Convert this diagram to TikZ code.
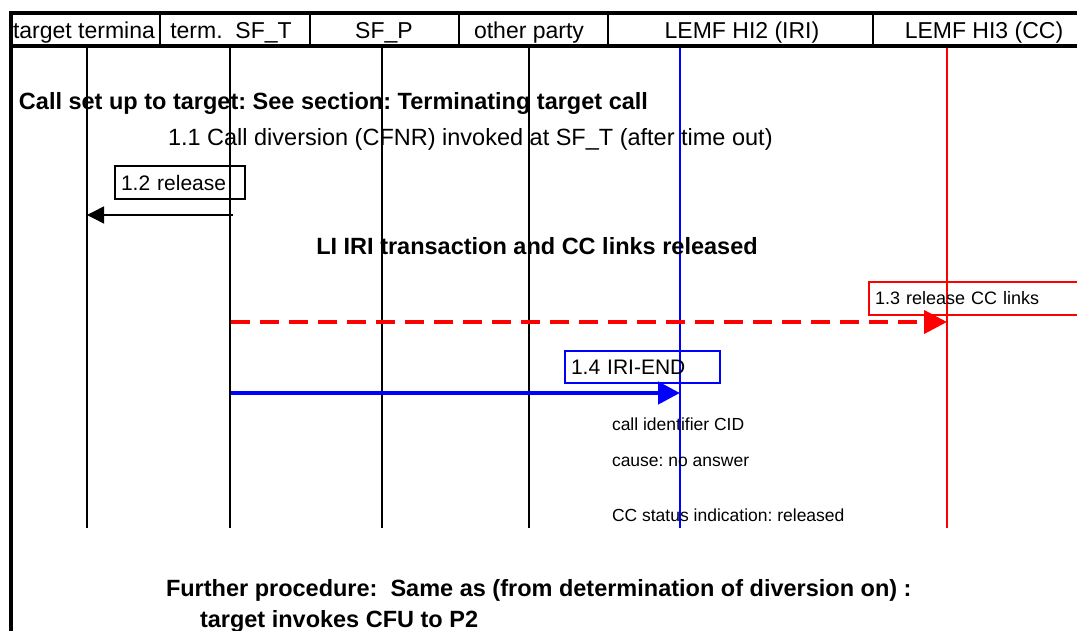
\documentclass[tikz,border=0pt]{standalone}
\usepackage{fontspec}
\setmainfont{Liberation Sans}
\usetikzlibrary{arrows.meta}
\frenchspacing

\tikzset{
  head/.style={font=\fontsize{23}{26}\selectfont, anchor=base},
  txt/.style={font=\fontsize{23.5}{26}\selectfont, anchor=base west},
  btxt/.style={font=\fontsize{23.5}{26}\selectfont\bfseries, anchor=base west},
  small/.style={font=\fontsize{17.5}{20}\selectfont, anchor=base west},
  msgbox/.style={draw, line width=1.4pt, anchor=north west, align=left, inner xsep=6pt},
  tip/.style={-{Triangle[length=#1, width=#1]}}
}

\begin{document}
\begin{tikzpicture}[x=1pt, y=-1pt, every node/.style={inner sep=0, outer sep=0}]
  \useasboundingbox (0,0) rectangle (1077,631);
  \clip (0,0) rectangle (1077,631);

  % header
  \draw[line width=4pt] (10,13) -- (1077,13);
  \draw[line width=4pt] (10,46) -- (1077,46);
  \draw[line width=3.5pt] (11,11) -- (11,631);
  \foreach \x in {160,310,459,608,873}
    \draw[line width=2pt] (\x,13) -- (\x,46);
  \node[head, anchor=base west] (hTT) at (13,39) {target termina};
  \node[head] (hST) at (231,39) {term.\ \ SF\_T};
  \node[head] (hSP) at (384,39) {SF\_P};
  \node[head] (hOP) at (529,39) {other party};
  \node[head] (hH2) at (742,39) {LEMF HI2 (IRI)};
  \node[head] (hH3) at (984,39) {LEMF HI3 (CC)};

  % lifelines
  \foreach \n/\x/\c in {TT/87/black, ST/230/black, SP/382/black, OP/529/black, H2/680/blue, H3/947/red} {
    \coordinate (\n0) at (\x,48);
    \coordinate (\n1) at (\x,528);
    \draw[\c, line width=1.3pt] (\n0) -- (\n1);
  }

  \node[btxt] (setup) at (19,110) {Call set up to target: See section: Terminating target call};
  \node[txt] (cfnr) at (168,146) {1.1 Call diversion (CFNR) invoked at SF\_T (after time out)};

  % 1.2 release
  \node[msgbox, minimum width=130pt, minimum height=33pt, text width=118pt,
        font=\fontsize{21}{24}\selectfont] (m12) at (115,166) {1.2 release};
  \coordinate (r2a) at (233,215);
  \coordinate (r2b) at (87,215);
  \draw[line width=1.5pt, tip=17pt] (r2a) -- (r2b);

  \node[btxt, anchor=base] (liiri) at (537,255) {LI IRI transaction and CC links released};

  % 1.3 release CC links
  \node[msgbox, red, minimum width=225pt, minimum height=33pt, text width=213pt,
        font=\fontsize{18}{21}\selectfont] (m13) at (869,282) {\textcolor{black}{1.3 release CC links}};
  \coordinate (r3a) at (231,322);
  \coordinate (r3b) at (947,322);
  \draw[red, line width=4pt, dash pattern=on 19pt off 10pt, tip=23pt] (r3a) -- (r3b);

  % 1.4 IRI-END
  \node[msgbox, blue, minimum width=155pt, minimum height=32pt, text width=143pt,
        font=\fontsize{21}{24}\selectfont] (m14) at (565,351) {\textcolor{black}{1.4 IRI-END}};
  \coordinate (r4a) at (231,393);
  \coordinate (r4b) at (680,393);
  \draw[blue, line width=4.5pt, tip=22pt] (r4a) -- (r4b);

  \node[small] (cid) at (612,430) {call identifier CID};
  \node[small] (cause) at (612,466) {cause: no answer};
  \node[small] (ccst) at (612,521) {CC status indication: released};

  \node[btxt] (fur1) at (166,596) {Further procedure:\ \ Same as (from determination of diversion on) :};
  \node[btxt] (fur2) at (200,627) {target invokes CFU to P2};
\end{tikzpicture}
\end{document}
